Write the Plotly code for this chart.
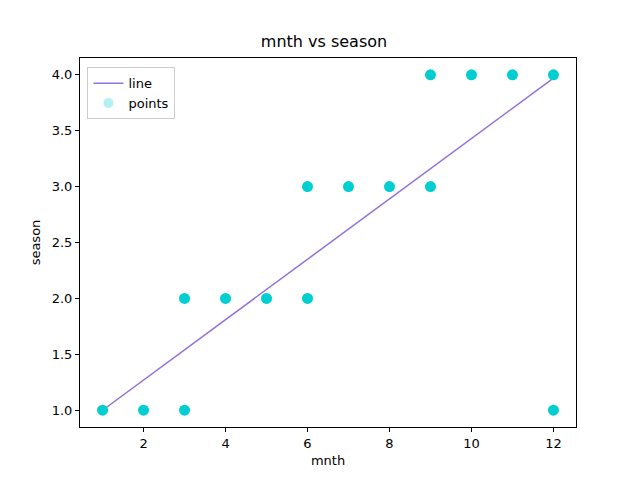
import plotly.graph_objects as go

# observed (mnth, season) pairs
mnth = [1, 2, 3, 3, 4, 5, 6, 6, 7, 8, 9, 9, 10, 11, 12, 12]
season = [1, 1, 1, 2, 2, 2, 2, 3, 3, 3, 3, 4, 4, 4, 4, 1]
# fitted line
line_x = [1, 12]
line_y = [1.0, 3.97]

x_ticks = [2, 4, 6, 8, 10, 12]
y_ticks = [1.0, 1.5, 2.0, 2.5, 3.0, 3.5, 4.0]

fig = go.Figure()
fig.add_trace(go.Scatter(x=line_x, y=line_y, mode="lines", name="line",
                         line=dict(color="#9370DB", width=1.5)))
# points overlap heavily in the source, so draw them solid and add a faint legend entry
fig.add_trace(go.Scatter(x=mnth, y=season, mode="markers", showlegend=False,
                         marker=dict(color="#00CED1", size=11)))
fig.add_trace(go.Scatter(x=[None], y=[None], mode="markers", name="points",
                         marker=dict(color="#00CED1", size=10, opacity=0.3)))

# page has an 8px body margin, so the figure is a bit smaller than the window
fig.update_layout(
    width=632, height=472,
    margin=dict(l=72, r=64, t=50, b=53),
    plot_bgcolor="white", paper_bgcolor="white",
    font=dict(family="DejaVu Sans", size=13, color="black"),
    title=dict(text="mnth vs season", x=0.5, xanchor="center", y=0.93, yanchor="middle",
               font=dict(size=16)),
    legend=dict(x=0.015, y=0.975, xanchor="left", yanchor="top",
                bordercolor="#cccccc", borderwidth=1, bgcolor="white",
                font=dict(size=13), tracegroupgap=0),
)
fig.update_xaxes(range=[0.45, 12.55], tickvals=x_ticks, tickfont=dict(size=13),
                 title=dict(text="mnth", standoff=6, font=dict(size=13)),
                 showgrid=False, zeroline=False, showline=True, linecolor="black", mirror=True,
                 ticks="outside", ticklen=4, tickcolor="black")
fig.update_yaxes(range=[0.85, 4.15], tickvals=y_ticks, tickformat=".1f", tickfont=dict(size=13),
                 title=dict(text="season", standoff=8, font=dict(size=13)),
                 showgrid=False, zeroline=False, showline=True, linecolor="black", mirror=True,
                 ticks="outside", ticklen=4, tickcolor="black")

fig.write_html("out.html")
